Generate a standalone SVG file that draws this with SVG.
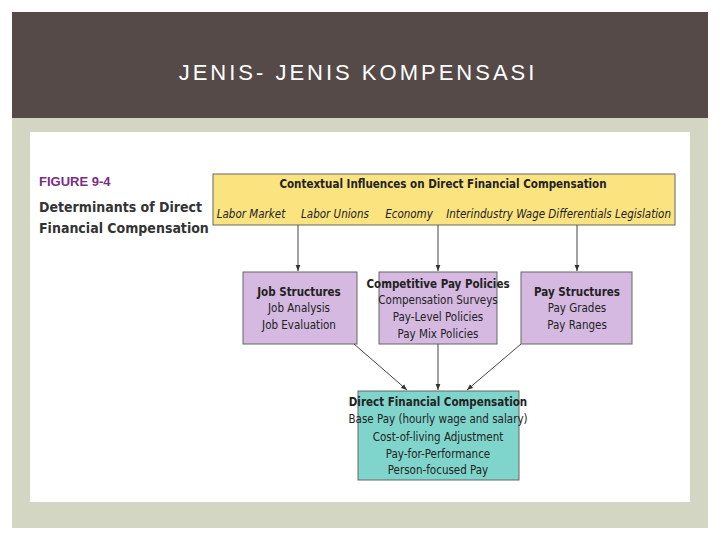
<svg xmlns="http://www.w3.org/2000/svg" width="720" height="540" viewBox="0 0 720 540">
<style>
.t{font-family:"Liberation Sans Narrow","DejaVu Sans Condensed","DejaVu Sans",sans-serif;font-size:11.5px;fill:#222;text-anchor:middle}
.b{font-weight:bold}
.i{font-style:italic}
.box{stroke:#666;stroke-width:1}
.c{stroke:#444;stroke-width:1;fill:none;marker-end:url(#ah)}
</style>
<defs><marker id="ah" viewBox="0 0 10 10" refX="10" refY="5" markerWidth="6" markerHeight="6" orient="auto"><path d="M0,1L10,5L0,9z" fill="#333"/></marker></defs>
<rect width="720" height="540" fill="#fff"/>
<rect x="12" y="12" width="696" height="516" fill="#d3d6c3"/>
<rect x="12" y="12" width="696" height="106" fill="#554a47"/>
<text x="358" y="80" font-family="Liberation Sans,sans-serif" font-size="22" fill="#fff" text-anchor="middle" letter-spacing="3">JENIS- JENIS KOMPENSASI</text>
<rect x="30" y="132" width="660" height="370" fill="#fff"/>
<text x="39" y="186" font-family="Liberation Sans,sans-serif" font-size="13" font-weight="bold" fill="#7a2d83">FIGURE 9-4</text>
<text x="39" y="212" font-family="Liberation Sans Narrow,DejaVu Sans Condensed,sans-serif" font-size="14" font-weight="bold" fill="#333">Determinants of Direct</text>
<text x="39" y="233" font-family="Liberation Sans Narrow,DejaVu Sans Condensed,sans-serif" font-size="14" font-weight="bold" fill="#333">Financial Compensation</text>
<g id="context">
<rect class="box" x="213" y="174" width="462" height="51" fill="#fbe37f"/>
<text class="t b" x="443" y="188">Contextual Influences on Direct Financial Compensation</text>
<text class="t i" x="251" y="218">Labor Market</text>
<text class="t i" x="335" y="218">Labor Unions</text>
<text class="t i" x="409" y="218">Economy</text>
<text class="t i" x="529" y="218">Interindustry Wage Differentials</text>
<text class="t i" x="643" y="218">Legislation</text>
</g>
<g id="job">
<rect class="box" x="243" y="272" width="114" height="72" fill="#d5b9e0"/>
<text class="t b" x="299" y="296">Job Structures</text>
<text class="t" x="299" y="312">Job Analysis</text>
<text class="t" x="299" y="329">Job Evaluation</text>
</g>
<g id="comp">
<rect class="box" x="379" y="272" width="118" height="72" fill="#d5b9e0"/>
<text class="t b" x="438" y="288">Competitive Pay Policies</text>
<text class="t" x="438" y="304">Compensation Surveys</text>
<text class="t" x="438" y="321">Pay-Level Policies</text>
<text class="t" x="438" y="338">Pay Mix Policies</text>
</g>
<g id="pay">
<rect class="box" x="521" y="272" width="111" height="72" fill="#d5b9e0"/>
<text class="t b" x="577" y="296">Pay Structures</text>
<text class="t" x="577" y="312">Pay Grades</text>
<text class="t" x="577" y="329">Pay Ranges</text>
</g>
<g id="direct">
<rect class="box" x="358" y="391" width="161" height="89" fill="#7fd5cc"/>
<text class="t b" x="438" y="406">Direct Financial Compensation</text>
<text class="t" x="438" y="423">Base Pay (hourly wage and salary)</text>
<text class="t" x="438" y="441">Cost-of-living Adjustment</text>
<text class="t" x="438" y="458">Pay-for-Performance</text>
<text class="t" x="438" y="474">Person-focused Pay</text>
</g>
<g id="connectors">
<line class="c" x1="298" y1="225" x2="298" y2="271"/>
<line class="c" x1="438" y1="225" x2="438" y2="271"/>
<line class="c" x1="577" y1="225" x2="577" y2="271"/>
<line class="c" x1="354" y1="344" x2="407" y2="390"/>
<line class="c" x1="438" y1="344" x2="438" y2="390"/>
<line class="c" x1="521" y1="344" x2="467" y2="390"/>
</g>
</svg>
